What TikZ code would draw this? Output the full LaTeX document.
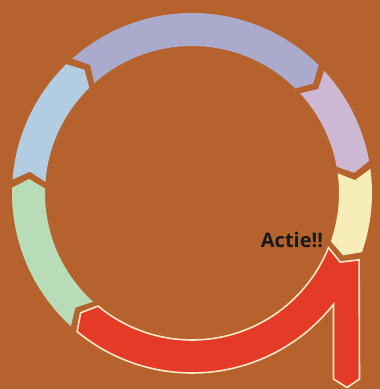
\documentclass[tikz,border=0pt]{standalone}
\usepackage{fontspec}
\setsansfont{Open Sans}
\definecolor{achtergrond}{HTML}{B5622D}
\definecolor{mintgroen}{HTML}{B8DCB8}
\definecolor{lichtblauw}{HTML}{B2CCE2}
\definecolor{lavendel}{HTML}{A9AACC}
\definecolor{lila}{HTML}{CCB8D2}
\definecolor{lichtgeel}{HTML}{F6EDB8}
\definecolor{actierood}{HTML}{E43A28}
\definecolor{roomwit}{HTML}{F8E8C4}
\definecolor{tekstkleur}{HTML}{1A1A1A}
\begin{document}
\begin{tikzpicture}[x=1pt, y=1pt,
    actietekst/.style={font=\sffamily\bfseries\fontsize{20}{22}\selectfont, text=tekstkleur, inner sep=0pt}]
    \def\rin{147}
    \def\rout{180}
    \def\rmid{163.5}
    \def\dep{3.2}

    % Achtergrond
    \fill[achtergrond] (-192,-196) rectangle (188,193);
    \useasboundingbox (-192,-196) rectangle (188,193);

    % Segmenten van de cyclus (met de klok mee)
    \foreach \s/\e/\kleur in {227.7/178.3/mintgroen, 175.7/134.3/lichtblauw,
        131.7/45.3/lavendel, 42.7/10.3/lila, 7.7/-19.2/lichtgeel} {
        \fill[\kleur] (\s:\rin) -- (\s-\dep:\rmid) -- (\s:\rout)
            arc[start angle=\s, end angle=\e, radius=\rout]
            -- (\e-\dep:\rmid) -- (\e:\rin)
            arc[start angle=\e, end angle=\s, radius=\rin] -- cycle;
    }

    % Rode pijl met uitgang naar beneden
    \filldraw[fill=actierood, draw=roomwit, line width=1.6pt, line join=miter]
        (-21.8:\rin) -- (-21.8-\dep:\rmid) -- (-21.8:\rout)
        -- (167.5,-186) -- (155,-194.5) -- (141.5,-186) -- (141.5,-111.3)
        arc[start angle=-38.2, end angle=-129.7, radius=\rout]
        -- (-129.7-\dep:\rmid) -- (-129.7:\rin)
        arc[start angle=-129.7, end angle=-21.8, radius=\rin] -- cycle;

    % Label
    \node[actietekst] (actie) at (100,-47) {Actie!!};
\end{tikzpicture}
\end{document}
